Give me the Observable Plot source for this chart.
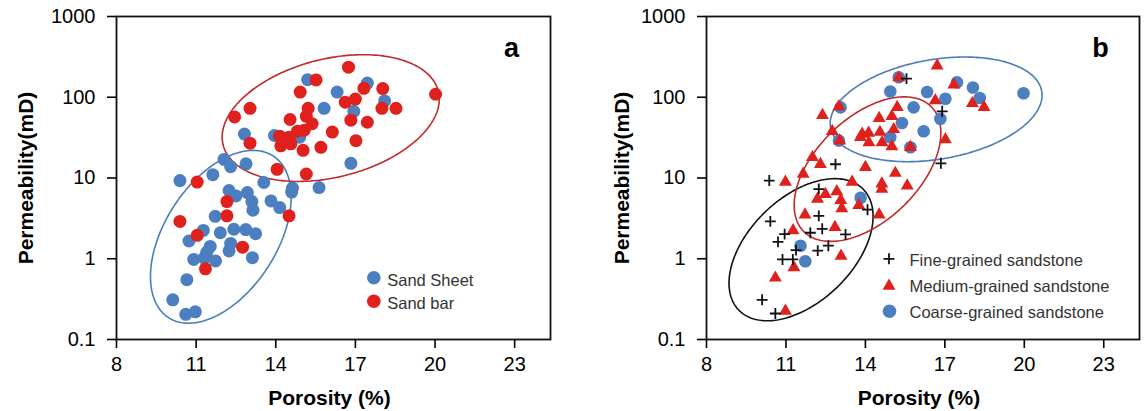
<!DOCTYPE html>
<html><head><meta charset="utf-8">
<script src="https://cdn.jsdelivr.net/npm/d3@7"></script>
<script src="https://cdn.jsdelivr.net/npm/@observablehq/plot@0.6"></script>
<style>
body{margin:0;background:#fff;}
#wrap{display:flex;width:1146px;height:411px;overflow:hidden;}
g[aria-label="axis-title"] text{letter-spacing:1px;}
g[aria-label="x-axis tick label"] text, g[aria-label="y-axis tick label"] text{font-size:20px;}
</style></head><body><div id="wrap"><div id="pa"></div><div id="pb"></div></div>
<script>
// ---- axes ----
const xTicks = [8, 11, 14, 17, 20, 23];
const yTicks = [0.1, 1, 10, 100, 1000];
const xLabel = "Porosity (%)";
const yLabel = "Permeability(mD)";

// ---- panel a: sedimentary microfacies ----
const catA = ["Sand Sheet", "Sand bar"];
const sheetPor  = [10.39,11.63,12.05,12.30,12.82,12.88,13.55,13.95,13.82,14.15,14.63,14.60,15.63,15.20,15.82,16.31,16.83,16.94,17.45,18.10,12.24,12.50,12.93,13.10,13.14,11.72,11.27,11.91,12.42,12.87,13.24,10.73,11.53,11.40,12.30,12.24,10.91,11.30,11.73,13.12,10.65,10.12,10.61,10.97,14.90];
const sheetPerm = [9.3,11.0,17.0,13.8,35,15,8.8,33.6,5.2,4.3,7.5,6.7,7.6,165,73,116,15.2,67,150,90,7.0,6.0,6.6,5.1,4.0,3.35,2.24,2.1,2.32,2.3,2.04,1.66,1.42,1.2,1.55,1.25,0.98,1.02,0.94,1.03,0.55,0.31,0.205,0.22,32];
const barPor  = [10.39,11.04,11.04,11.35,12.16,12.16,12.75,14.50,14.05,15.15,12.45,13.03,13.03,14.92,15.52,16.74,16.62,17.00,17.32,18.03,18.00,18.53,20.02,16.83,17.45,17.02,16.13,15.70,15.22,15.15,15.37,15.07,14.54,15.03,14.15,14.50,14.19,14.57,14.82,14.35];
const barPerm = [2.9,8.9,1.95,0.75,5.1,3.4,1.39,3.4,12.8,11.2,57,73,27,116,164,236,87,95,129,128,73,73,109,52,49,29,37,24,73,58,47,39,53,22,33,32,25,26.5,38,28];

// ---- panel b: grain size ----
const catB = ["Fine-grained sandstone", "Medium-grained sandstone", "Coarse-grained sandstone"];
const finePor  = [10.37,10.41,10.10,10.60,12.87,12.24,12.24,12.37,11.92,13.25,14.08,10.95,10.70,11.38,10.87,11.26,12.20,12.60,15.55,16.90,16.85];
const finePerm = [9.3,2.9,0.31,0.21,14.8,7.3,3.4,2.35,2.1,2.0,4.05,2.02,1.62,1.28,0.98,0.98,1.26,1.45,170,67,15.2];
const medPor  = [10.98,10.60,10.98,11.27,11.30,11.72,11.65,12.00,12.30,12.19,12.49,12.92,13.07,13.11,12.85,13.08,13.50,13.75,14.52,14.62,14.62,15.13,15.58,14.00,12.38,13.00,12.75,13.03,13.88,14.12,14.13,14.55,14.63,14.52,15.00,15.07,15.20,15.00,15.70,15.26,16.71,16.64,17.34,17.02,18.04,18.48,13.81];
const medPerm = [8.9,0.58,0.225,2.24,0.78,3.5,11.2,18,14.8,5.5,6.3,6.8,5.3,4.2,2.45,1.08,8.9,4.6,3.5,8.5,7.3,11.5,8.0,13.6,60,77,38,29,35,36,27.6,37,27.6,55,58,40,75,24.5,24,175,246,91,143,30,84,75,32];
const coarsePor  = [13.06,13.00,14.94,15.26,15.82,15.38,16.20,15.70,16.33,16.83,17.02,17.46,18.06,18.32,19.97,14.94,13.82,11.55,11.73];
const coarsePerm = [75,29,118,177,75,48,38,24,116,54,96,153,132,98,112,32,5.7,1.45,0.93];

// ---- envelope ellipses: [centre porosity, centre log10 perm, half-width, half-height (decades), correlation] ----
const ellA = [[11.93,0.272,2.65,1.07,0.46],[16.07,1.742,4.09,0.785,0.30]];
const ellB = [[11.57,0.112,2.72,0.88,0.47],[14.08,1.11,2.77,0.895,0.50],[16.67,1.85,4.00,0.648,0.27]];

const BLUE = "#4b7fc0", RED = "#e0201c", BLUE_L = "#4a7db8", RED_L = "#bf2a2a";

function pts(xs, ys){ return xs.map((x,i)=>({x, y: ys[i]})); }
function ellipse(e){
  const [cx,cy,hx,hy,rho] = e, s = Math.sqrt(1-rho*rho);
  return d3.range(0,241).map(i=>{const t=i/240*2*Math.PI; return {x: cx+hx*Math.cos(t), y: Math.pow(10, cy+hy*(rho*Math.cos(t)+s*Math.sin(t)))};});
}

function panel({width, marginLeft, marginRight, marks, ylabelDx, letter}){
  return Plot.plot({
    width, height: 411, marginTop: 16, marginBottom: 72, marginLeft, marginRight,
    x: {domain: [8, 24.35]},
    y: {type: "log", domain: [0.1, 1000]},
    style: {fontFamily: "'Liberation Sans', Arial, sans-serif", background: "white", overflow: "visible", color: "#000"},
    marks: [
      ...marks,
      Plot.frame({stroke: "#111", strokeWidth: 1.8}),
      Plot.axisX({ticks: xTicks, tickSize: 9, tickPadding: 8, fontSize: 20, label: null, strokeWidth: 1.6}),
      Plot.axisY({ticks: yTicks, tickFormat: d => String(d), tickSize: 9, tickPadding: 12, fontSize: 20, label: null, strokeWidth: 1.6}),
      Plot.text([xLabel], {frameAnchor: "bottom", dy: 59, dx: -4, text: d => d, textAnchor: "middle", lineAnchor: "middle", fontSize: 21, fontWeight: "bold", ariaLabel: "axis-title"}),
      Plot.text([yLabel], {frameAnchor: "left", dx: -ylabelDx, rotate: -90, text: d => d, textAnchor: "middle", lineAnchor: "middle", fontSize: 21, fontWeight: "bold", ariaLabel: "axis-title"}),
      Plot.text([letter], {frameAnchor: "top-right", dx: -39, dy: 31.5, text: d => d, textAnchor: "middle", lineAnchor: "middle", fontSize: 27, fontWeight: "bold"})
    ]
  });
}

// panel a
const legA = [
  Plot.dot([0], {frameAnchor: "top-left", dx: 257.3, dy: 261.3, r: 6.8, fill: BLUE}),
  Plot.dot([0], {frameAnchor: "top-left", dx: 257.3, dy: 284.7, r: 6.8, fill: RED}),
  Plot.text([catA[0]], {frameAnchor: "top-left", dx: 270.7, dy: 264.7, text: d => d, textAnchor: "start", lineAnchor: "middle", fontSize: 16.5, fill: "#333"}),
  Plot.text([catA[1]], {frameAnchor: "top-left", dx: 270.7, dy: 287, text: d => d, textAnchor: "start", lineAnchor: "middle", fontSize: 16.5, fill: "#333"})
];
const plotA = panel({
  width: 576, marginLeft: 116, marginRight: 26, ylabelDx: 90.5, letter: "a",
  marks: [
    Plot.line(ellipse(ellA[0]), {x: "x", y: "y", stroke: BLUE_L, strokeWidth: 1.6}),
    Plot.line(ellipse(ellA[1]), {x: "x", y: "y", stroke: RED_L, strokeWidth: 1.6}),
    Plot.dot(pts(sheetPor, sheetPerm), {x: "x", y: "y", r: 6.5, fill: BLUE}),
    Plot.dot(pts(barPor, barPerm), {x: "x", y: "y", r: 6.5, fill: RED}),
    ...legA
  ]
});
document.getElementById("pa").append(plotA);

// panel b
const legB = [
  Plot.dot([0], {frameAnchor: "top-left", dx: 182.5, dy: 242.3, symbol: "plus", r: 3.6, stroke: "#111", strokeWidth: 1.8}),
  Plot.dot([0], {frameAnchor: "top-left", dx: 182.5, dy: 269.5, symbol: "triangle", r: 4.8, fill: RED}),
  Plot.dot([0], {frameAnchor: "top-left", dx: 183, dy: 294.7, r: 6.8, fill: BLUE}),
  ...catB.map((c,i) => Plot.text([c], {frameAnchor: "top-left", dx: 203, dy: [244.2, 270.2, 296.2][i], text: d => d, textAnchor: "start", lineAnchor: "middle", fontSize: 16.5, fill: "#333"}))
];
const plotB = panel({
  width: 570, marginLeft: 130, marginRight: 7, ylabelDx: 84.4, letter: "b",
  marks: [
    Plot.line(ellipse(ellB[0]), {x: "x", y: "y", stroke: "#111", strokeWidth: 1.6}),
    Plot.line(ellipse(ellB[1]), {x: "x", y: "y", stroke: RED_L, strokeWidth: 1.6}),
    Plot.line(ellipse(ellB[2]), {x: "x", y: "y", stroke: BLUE_L, strokeWidth: 1.6}),
    Plot.dot(pts(coarsePor, coarsePerm), {x: "x", y: "y", r: 6.3, fill: BLUE}),
    Plot.dot(pts(medPor, medPerm), {x: "x", y: "y", symbol: "triangle", r: 4.8, fill: RED}),
    Plot.dot(pts(finePor, finePerm), {x: "x", y: "y", symbol: "plus", r: 3.6, stroke: "#111", strokeWidth: 1.8}),
    ...legB
  ]
});
document.getElementById("pb").append(plotB);
</script></body></html>
